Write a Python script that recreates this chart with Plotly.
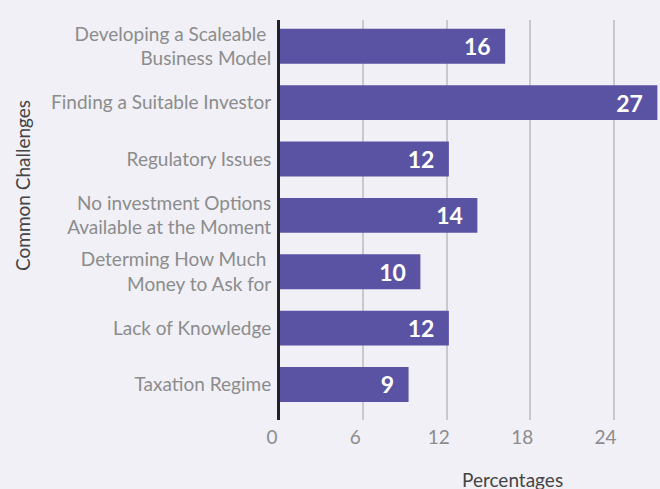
import plotly.graph_objects as go

categories = [
    "Developing a Scaleable <br>Business Model",
    "Finding a Suitable Investor",
    "Regulatory Issues",
    "No investment Options<br>Available at the Moment",
    "Determing How Much <br>Money to Ask for",
    "Lack of Knowledge",
    "Taxation Regime",
]
values = [16.2, 27.15, 12.15, 14.2, 10.1, 12.15, 9.25]
labels = ["16", "27", "12", "14", "10", "12", "9"]
x_ticks = [0, 6, 12, 18, 24]

BG = "#f0f0f6"
BAR = "#5a53a3"
GRAY = "#8c8c8c"
FONT = "Lato"

fig = go.Figure(go.Bar(
    y=categories,
    x=values,
    orientation="h",
    marker=dict(color=BAR, line=dict(width=0)),
    width=0.62,
    text=[t + "&#8194;" for t in labels],
    textposition="inside",
    insidetextanchor="end",
    textangle=0,
    textfont=dict(family=FONT, size=23, color="white", weight="bold"),
))

fig.update_layout(
    width=660, height=489,
    paper_bgcolor=BG, plot_bgcolor=BG,
    margin=dict(l=280, r=0, t=20, b=69),
    showlegend=False,
    font=dict(family=FONT, color=GRAY, size=19),
)
fig.update_xaxes(
    range=[0, 27.34],
    tickvals=x_ticks,
    ticktext=[str(t) for t in x_ticks],
    showgrid=True, gridcolor="#c9c9cc", gridwidth=1.5,
    zeroline=False, showline=False,
    tickfont=dict(family=FONT, size=19, color=GRAY),
    ticks="", ticklabelshift=-8, ticklabelstandoff=4,
)
fig.update_yaxes(
    categoryorder="array", categoryarray=categories,
    range=[6.63, -0.466],
    showline=True, linecolor="#222222", linewidth=3,
    showgrid=False, ticks="",
    tickfont=dict(family=FONT, size=19, color=GRAY),
    ticklabelstandoff=2,
)

fig.add_annotation(
    text="Percentages", xref="paper", yref="paper",
    x=(512 - 280) / 380, y=-(480 - 420) / 400,
    xanchor="center", yanchor="middle", showarrow=False,
    font=dict(family=FONT, size=19, color="#444444"),
)
fig.add_annotation(
    text="Common Challenges", xref="paper", yref="paper",
    x=-(280 - 22) / 380, y=(420 - 186) / 400,
    xanchor="center", yanchor="middle", showarrow=False, textangle=-90,
    font=dict(family=FONT, size=19, color="#444444"),
)

fig.write_html(
    "out.html",
    config={"displayModeBar": False},
    post_script="document.body.style.margin='0';document.body.style.background='%s';" % BG,
)
